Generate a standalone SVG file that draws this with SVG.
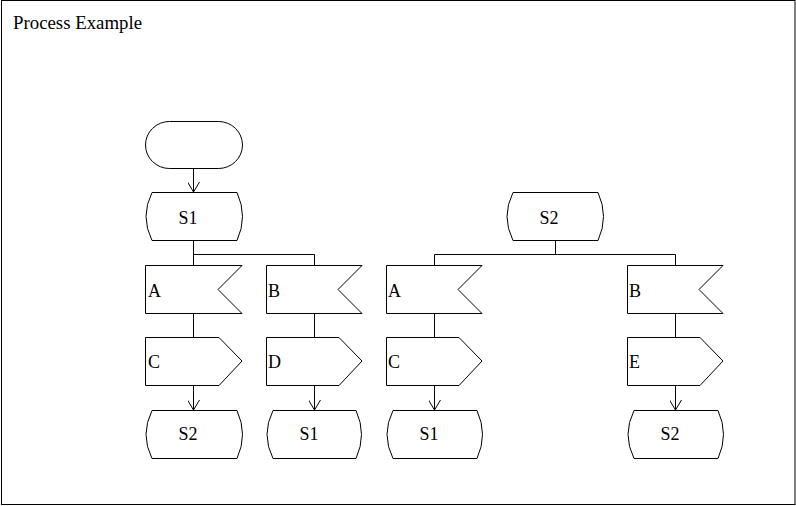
<svg xmlns="http://www.w3.org/2000/svg" width="796" height="506" viewBox="0 0 796 506">
<defs>
<style>
.s{fill:#fff;stroke:#000;stroke-width:1}
.c{fill:none;stroke:#000;stroke-width:1}
.m{text-anchor:middle}
</style>
<marker id="arr" markerWidth="12" markerHeight="12" refX="10" refY="6" orient="auto" markerUnits="userSpaceOnUse">
<path d="M0,0 L10,6 L0,12" fill="none" stroke="#000" stroke-width="1"/>
</marker>
</defs>
<g font-family="'Liberation Serif', 'Times New Roman', 'DejaVu Serif', serif" font-size="18" fill="#000">
<rect x="1.5" y="0.5" width="793.5" height="504" fill="#fff" stroke="#000"/>
<text x="13" y="29" textLength="129" lengthAdjust="spacingAndGlyphs">Process Example</text>

<g id="connectors">
<line class="c" x1="193.5" y1="169" x2="193.5" y2="192" marker-end="url(#arr)"/>
<polyline class="c" points="193.5,241 193.5,254.5 314.5,254.5 314.5,265"/>
<line class="c" x1="193.5" y1="254" x2="193.5" y2="265"/>
<line class="c" x1="193.5" y1="314" x2="193.5" y2="337"/>
<line class="c" x1="193.5" y1="386" x2="193.5" y2="410" marker-end="url(#arr)"/>
<line class="c" x1="314.5" y1="314" x2="314.5" y2="337"/>
<line class="c" x1="314.5" y1="386" x2="314.5" y2="410" marker-end="url(#arr)"/>
<line class="c" x1="555.5" y1="241" x2="555.5" y2="254.5"/>
<polyline class="c" points="434.5,265 434.5,254.5 675.5,254.5 675.5,265"/>
<line class="c" x1="434.5" y1="314" x2="434.5" y2="337"/>
<line class="c" x1="434.5" y1="386" x2="434.5" y2="410" marker-end="url(#arr)"/>
<line class="c" x1="675.5" y1="314" x2="675.5" y2="337"/>
<line class="c" x1="675.5" y1="386" x2="675.5" y2="410" marker-end="url(#arr)"/>
</g>

<g id="start">
<rect class="s" x="145.5" y="121.5" width="97" height="47" rx="24" ry="23.5"/>
</g>

<g id="state_S1_top">
<path class="s" d="M152,192.5 L237,192.5 Q248,216.5 237,240.5 L152,240.5 Q140,216.5 152,192.5 Z"/>
<text class="m" x="188" y="224">S1</text>
</g>

<g id="input_A1">
<path class="s" d="M145.5,265.5 L242,265.5 L218,289.5 L242,313.5 L145.5,313.5 Z"/>
<text x="148" y="297">A</text>
</g>
<g id="input_B1">
<path class="s" d="M266.5,265.5 L362,265.5 L338,289.5 L362,313.5 L266.5,313.5 Z"/>
<text x="268" y="297">B</text>
</g>

<g id="output_C1">
<path class="s" d="M145.5,337.5 L219,337.5 L242,361 L219,385.5 L145.5,385.5 Z"/>
<text x="148" y="368">C</text>
</g>
<g id="output_D">
<path class="s" d="M266.5,337.5 L339,337.5 L362,361 L339,385.5 L266.5,385.5 Z"/>
<text x="268" y="368">D</text>
</g>

<g id="state_S2_b1">
<path class="s" d="M152,410.5 L237,410.5 Q248,434.5 237,458.5 L152,458.5 Q140,434.5 152,410.5 Z"/>
<text class="m" x="188" y="440">S2</text>
</g>
<g id="state_S1_b2">
<path class="s" d="M273,410.5 L356,410.5 Q367,434.5 356,458.5 L273,458.5 Q261,434.5 273,410.5 Z"/>
<text class="m" x="309" y="440">S1</text>
</g>

<g id="state_S2_top">
<path class="s" d="M513,192.5 L598,192.5 Q609,216.5 598,240.5 L513,240.5 Q501,216.5 513,192.5 Z"/>
<text class="m" x="549" y="224">S2</text>
</g>

<g id="input_A2">
<path class="s" d="M386.5,265.5 L482,265.5 L458,289.5 L482,313.5 L386.5,313.5 Z"/>
<text x="388" y="297">A</text>
</g>
<g id="input_B2">
<path class="s" d="M627.5,265.5 L723,265.5 L699,289.5 L723,313.5 L627.5,313.5 Z"/>
<text x="629" y="297">B</text>
</g>

<g id="output_C2">
<path class="s" d="M386.5,337.5 L459,337.5 L482,361 L459,385.5 L386.5,385.5 Z"/>
<text x="388" y="368">C</text>
</g>
<g id="output_E">
<path class="s" d="M627.5,337.5 L700,337.5 L723,361 L700,385.5 L627.5,385.5 Z"/>
<text x="629" y="368">E</text>
</g>

<g id="state_S1_b3">
<path class="s" d="M393,410.5 L477,410.5 Q488,434.5 477,458.5 L393,458.5 Q381,434.5 393,410.5 Z"/>
<text class="m" x="429" y="440">S1</text>
</g>
<g id="state_S2_b4">
<path class="s" d="M634,410.5 L718,410.5 Q729,434.5 718,458.5 L634,458.5 Q622,434.5 634,410.5 Z"/>
<text class="m" x="670" y="440">S2</text>
</g>
</g>
</svg>
